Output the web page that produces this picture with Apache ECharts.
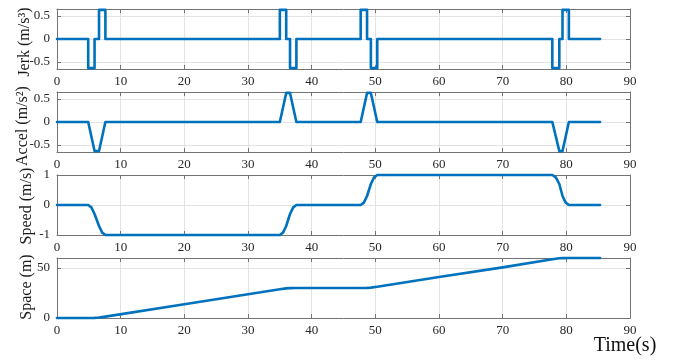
<!DOCTYPE html>
<html>
<head>
<meta charset="utf-8">
<script src="https://cdn.jsdelivr.net/npm/echarts@6/dist/echarts.min.js"></script>
<style>html,body{margin:0;padding:0;background:#fff}#c{width:675px;height:360px}</style>
</head>
<body>
<div id="c"></div>
<script>
// ---- data ----
const jerkT = [0,4.9,4.9,5.9,5.9,6.6,6.6,7.6,7.6,35.0,35.0,36.0,36.0,36.6,36.6,37.6,37.6,47.7,47.7,48.7,48.7,49.3,49.3,50.3,50.3,77.8,77.8,78.9,78.9,79.4,79.4,80.4,80.4,85.3];
const jerkV = [0,0,-0.63,-0.63,0,0,0.63,0.63,0,0,0.63,0.63,0,0,-0.63,-0.63,0,0,0.63,0.63,0,0,-0.63,-0.63,0,0,-0.63,-0.63,0,0,0.63,0.63,0,0];

const accT = [0,4.9,5.9,6.6,7.6,35.0,36.0,36.6,37.6,47.7,48.7,49.3,50.3,77.8,78.9,79.4,80.4,85.3];
const accV = [0,0,-0.63,-0.63,0,0,0.63,0.63,0,0,0.63,0.63,0,0,-0.63,-0.63,0,0];

const spdT = [0,4.9,5.4,5.9,6.6,7.1,7.6,35.0,35.5,36.0,36.6,37.1,37.6,47.7,48.2,48.7,49.3,49.8,50.3,77.8,78.35,78.9,79.4,79.9,80.4,85.3];
const spdV = [0,0,-0.08,-0.3,-0.7,-0.92,-1,-1,-0.92,-0.7,-0.3,-0.08,0,0,0.08,0.3,0.7,0.92,1,1,0.92,0.7,0.3,0.08,0,0];

const spcT = [0,4.9,5.9,6.6,7.6,20,35.0,36.0,36.6,37.6,47.7,48.7,49.3,50.3,60,70,77.8,78.9,79.4,80.4,85.3];
const spcV = [0,0,0.1,0.45,1.4,13.8,28.7,29.6,29.9,30,30,30.1,30.4,31.3,41,50.6,58.7,59.7,59.9,60,60];

const xTicks = [0,10,20,30,40,50,60,70,80,90];
const jerkTicks = [-0.5,0,0.5];
const accTicks = [-0.5,0,0.5];
const spdTicks = [-1,0,1];
const spcTicks = [0,50];

const yNames = ['Jerk (m/s\u00B3)','Accel (m/s\u00B2)','Speed (m/s)','Space (m)'];
const xName = 'Time(s)';

// ---- layout ----
const tops = [9,92,175,258];
const H = 60, L = 57, W = 573;
const font = 'Liberation Serif';
const lineCol = '#0072BD';
const frameCol = '#737373';
const txtCol = '#262626';

const zip = (a,b) => a.map((t,i)=>[t,b[i]]);
const panels = [
  {data: zip(jerkT,jerkV), min:-0.65, max:0.65, ticks:jerkTicks},
  {data: zip(accT,accV), min:-0.65, max:0.65, ticks:accTicks},
  {data: zip(spdT,spdV), min:-1, max:1, ticks:spdTicks},
  {data: zip(spcT,spcV), min:0, max:60, ticks:spcTicks}
];

const grid=[], xAxis=[], yAxis=[], series=[];
panels.forEach((p,i)=>{
  grid.push({left:L, top:tops[i], width:W, height:H, containLabel:false});
  const xi = xAxis.length, yi = yAxis.length;
  xAxis.push({type:'value', gridIndex:i, min:0, max:90, position:'bottom',
    axisLine:{show:true,onZero:false,lineStyle:{color:frameCol,width:1}},
    axisTick:{show:true,inside:true,length:4,customValues:xTicks,lineStyle:{color:frameCol}},
    axisLabel:{show:true,customValues:xTicks,margin:6,fontFamily:font,fontSize:13,color:txtCol},
    splitLine:{show:true,lineStyle:{color:'#e3e3e3',width:1}}});
  xAxis.push({type:'value', gridIndex:i, min:0, max:90, position:'top',
    axisLine:{show:true,onZero:false,lineStyle:{color:frameCol,width:1}},
    axisTick:{show:true,inside:true,length:4,customValues:xTicks,lineStyle:{color:frameCol}},
    axisLabel:{show:false}, splitLine:{show:false}});
  yAxis.push({type:'value', gridIndex:i, min:p.min, max:p.max, position:'left',
    axisLine:{show:true,onZero:false,lineStyle:{color:frameCol,width:1}},
    axisTick:{show:true,inside:true,length:4,customValues:p.ticks,lineStyle:{color:frameCol}},
    axisLabel:{show:true,customValues:p.ticks,margin:7,fontFamily:font,fontSize:13,color:txtCol},
    splitLine:{show:true,lineStyle:{color:'#e3e3e3',width:1}}});
  yAxis.push({type:'value', gridIndex:i, min:p.min, max:p.max, position:'right',
    axisLine:{show:true,onZero:false,lineStyle:{color:frameCol,width:1}},
    axisTick:{show:true,inside:true,length:4,customValues:p.ticks,lineStyle:{color:frameCol}},
    axisLabel:{show:false}, splitLine:{show:false}});
  series.push({type:'line', xAxisIndex:xi, yAxisIndex:yi, data:p.data, showSymbol:false,
    symbol:'none', animation:false, clip:false,
    lineStyle:{color:lineCol,width:2.6,join:'round',cap:'round'}});
});

const nameCenters = [[25,42],[23,126],[27,206],[27,287]];
const graphic = yNames.map((n,i)=>({type:'text', x:nameCenters[i][0], y:nameCenters[i][1], rotation:Math.PI/2,
  style:{text:n, x:0, y:0, align:'center', verticalAlign:'middle', font:'16px "Liberation Serif"', fill:'#1a1a1a'}}));
graphic.push({type:'text', x:625, y:346, style:{text:xName, x:0, y:0, align:'center', verticalAlign:'middle', font:'20px "Liberation Serif"', fill:'#111'}});

const chart = echarts.init(document.getElementById('c'), null, {renderer:'canvas'});
chart.setOption({animation:false, backgroundColor:'#fff', grid, xAxis, yAxis, series, graphic});
</script>
</body>
</html>
